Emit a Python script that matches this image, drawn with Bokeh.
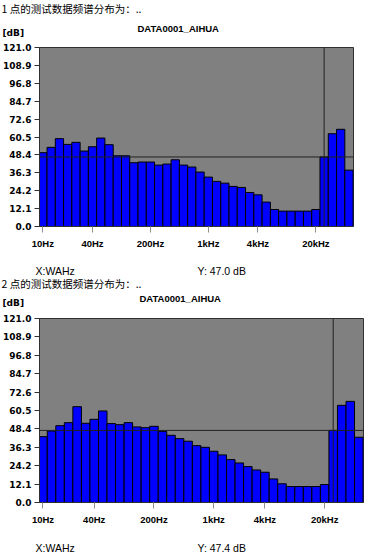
from bokeh.plotting import figure
from bokeh.models import Range1d, FixedTicker, Span, Label, NumeralTickFormatter
from bokeh.layouts import column
from bokeh.embed import file_html
from bokeh.resources import INLINE

# ---- data ----
bands = list(range(38))
tick_positions = [0, 6, 13, 20, 26, 33]
tick_labels = ["10Hz", "40Hz", "200Hz", "1kHz", "4kHz", "20kHz"]
y_ticks = [0.0, 12.1, 24.2, 36.3, 48.4, 60.5, 72.6, 84.7, 96.8, 108.9, 121.0]

levels_1 = [49.9, 53.5, 59.4, 55.5, 56.9, 51.0, 53.9, 59.8, 55.3, 47.8,
            47.8, 43.1, 43.6, 43.6, 41.5, 42.2, 45.1, 41.5, 40.2, 36.8,
            33.4, 30.5, 29.3, 27.1, 26.4, 23.0, 21.4, 16.5, 11.5, 10.4,
            10.4, 10.4, 10.4, 11.5, 47.0, 62.7, 65.7, 38.1]
levels_2 = [43.3, 47.0, 50.5, 52.5, 63.0, 52.1, 54.7, 60.2, 51.9, 51.2,
            52.5, 49.7, 49.2, 50.1, 46.8, 44.2, 42.0, 40.3, 37.4, 36.3,
            33.7, 31.3, 28.2, 26.0, 23.6, 21.4, 19.9, 15.5, 12.3, 10.5,
            10.5, 10.5, 10.5, 11.8, 47.4, 63.9, 66.5, 42.9]
cursor_band = 34
cursor_1 = 47.0
cursor_2 = 47.4

heading_1 = "1 点的测试数据频谱分布为：.."
heading_2 = "2 点的测试数据频谱分布为：.."
chart_title = "DATA0001_AIHUA"
unit_label = "[dB]"
x_readout = "X:WAHz"

W = 369


def text_strip(height, items):
    """A strip of free text: frame covers whole canvas, y measured downward."""
    p = figure(width=W, height=height, output_backend="svg", toolbar_location=None,
               x_range=Range1d(0, W), y_range=Range1d(height, 0),
               x_axis_location=None, y_axis_location=None, min_border=0,
               frame_align=False)
    p.outline_line_color = None
    p.background_fill_color = "white"
    p.border_fill_color = "white"
    p.grid.visible = False
    for text, cx, cy, font, size, style in items:
        p.add_layout(Label(x=cx, y=cy, text=text, text_font=font,
                           text_font_size=size, text_font_style=style,
                           text_color="black", text_baseline="middle",
                           text_align="left"))
    return p


def make_chart(levels, cursor_value, height, b_right, b_top, b_bottom):
    p = figure(width=W, height=height, output_backend="svg",
               toolbar_location=None, frame_align=False,
               x_range=Range1d(-0.41, 37.55), y_range=Range1d(0, 121.0),
               min_border_left=38, min_border_right=b_right,
               min_border_top=b_top, min_border_bottom=b_bottom)
    p.background_fill_color = "#808080"
    p.border_fill_color = "white"
    p.outline_line_color = "#303030"
    p.grid.visible = False

    p.vbar(x=bands, top=levels, width=1.0, bottom=0,
           fill_color="#0000ff", line_color="#000000", line_width=1)

    p.add_layout(Span(location=cursor_value, dimension="width",
                      line_color="#202020", line_width=1))
    p.add_layout(Span(location=cursor_band, dimension="height",
                      line_color="#202020", line_width=1))

    ya = p.yaxis[0]
    ya.ticker = FixedTicker(ticks=y_ticks)
    ya.formatter = NumeralTickFormatter(format="0.0")
    ya.major_label_text_font = "DejaVu Sans"
    ya.major_label_text_font_style = "bold"
    ya.major_label_text_font_size = "9px"
    ya.major_label_text_color = "black"
    ya.major_tick_in = 0
    ya.major_tick_out = 5
    ya.minor_tick_line_color = None
    ya.major_tick_line_color = "#303030"
    ya.axis_line_color = "#303030"
    ya.major_label_standoff = 3

    xa = p.xaxis[0]
    xa.ticker = FixedTicker(ticks=tick_positions)
    xa.major_label_overrides = {t: s for t, s in zip(tick_positions, tick_labels)}
    xa.major_label_text_font = "Liberation Sans"
    xa.major_label_text_font_style = "bold"
    xa.major_label_text_font_size = "9.5px"
    xa.major_label_text_color = "black"
    xa.major_tick_in = 0
    xa.major_tick_out = 6
    xa.major_tick_line_color = "#909090"
    xa.minor_tick_line_color = None
    xa.axis_line_color = "#303030"
    xa.major_label_standoff = 5
    return p


CJK = "Noto Sans CJK SC"
SANS = "Liberation Sans"

top_1 = text_strip(40, [
    (heading_1, 1, 8, CJK, "10.5px", "normal"),
    (unit_label, 2, 32, "DejaVu Sans", "9px", "bold"),
    (chart_title, 137, 28, SANS, "9.5px", "bold"),
])
chart_1 = make_chart(levels_1, cursor_1, 216, 16, 7, 30)
bottom_1 = text_strip(21, [
    (x_readout, 35, 14, SANS, "10.5px", "normal"),
    ("Y: %.1f dB" % cursor_1, 197, 14, SANS, "10.5px", "normal"),
])

top_2 = text_strip(34, [
    (heading_2, 1, 6, CJK, "10.5px", "normal"),
    (unit_label, 2, 25, "DejaVu Sans", "9px", "bold"),
    (chart_title, 139, 21, SANS, "9.5px", "bold"),
])
chart_2 = make_chart(levels_2, cursor_2, 219, 6, 7, 28)
bottom_2 = text_strip(28, [
    (x_readout, 35, 17, SANS, "10.5px", "normal"),
    ("Y: %.1f dB" % cursor_2, 197, 17, SANS, "10.5px", "normal"),
])

layout = column(top_1, chart_1, bottom_1, top_2, chart_2, bottom_2, spacing=0)

open("out.html", "w").write(file_html(layout, INLINE))
